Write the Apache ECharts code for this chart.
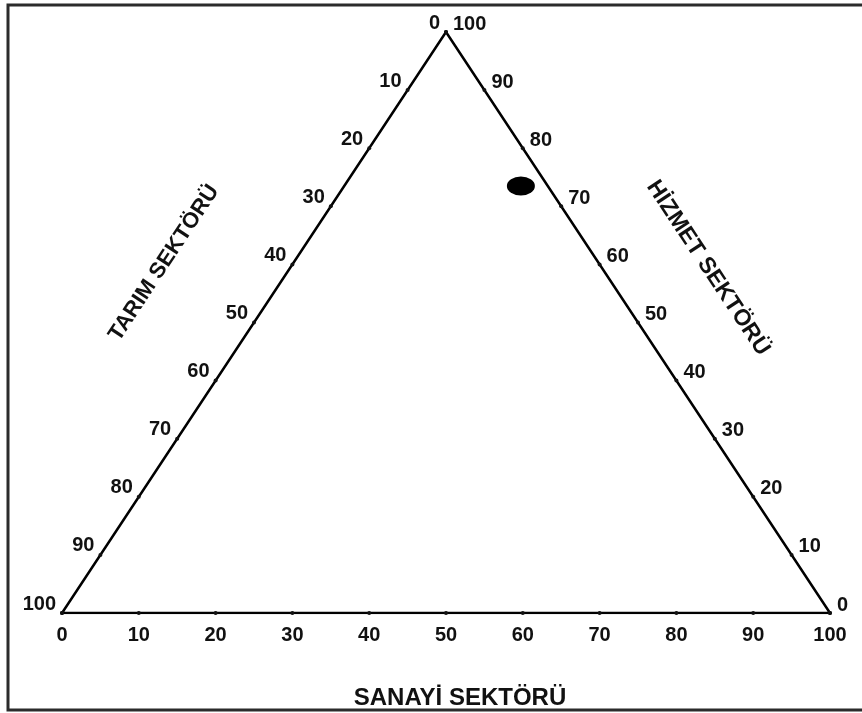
<!DOCTYPE html>
<html>
<head>
<meta charset="utf-8">
<script src="https://cdn.jsdelivr.net/npm/echarts@6/dist/echarts.min.js"></script>
<style>
  html, body { margin: 0; padding: 0; background: #fff; }
  #chart { width: 862px; height: 713px; }
</style>
</head>
<body>
<div id="chart"></div>
<script>
// tick values on each edge of the ternary diagram
const tarimTicks = [0, 10, 20, 30, 40, 50, 60, 70, 80, 90, 100]
const hizmetTicks = [0, 10, 20, 30, 40, 50, 60, 70, 80, 90, 100]
const sanayiTicks = [0, 10, 20, 30, 40, 50, 60, 70, 80, 90, 100]

// the plotted country/region: [tarım, sanayi, hizmet] shares (%)
const pointShares = [3.5, 23, 73.5]

const titles = ['TARIM SEKTÖRÜ', 'SANAYİ SEKTÖRÜ', 'HİZMET SEKTÖRÜ']

// ternary -> cartesian (x: 0..100 along base, y: 0..100 up to apex)
const toXY = (t, s, h) => [s + h / 2, h]

const font = '"Liberation Sans", Arial, sans-serif'
const tickLabel = {
  show: true,
  color: '#111',
  opacity: 1,
  fontSize: 20,
  fontWeight: 'bold',
  fontFamily: font,
}

const chart = echarts.init(document.getElementById('chart'))

const tickSeries = (name, data, label) => ({
  name,
  type: 'scatter',
  symbol: 'circle',
  symbolSize: 4,
  itemStyle: { color: '#111', opacity: 1 },
  silent: true,
  data,
  label: { ...tickLabel, ...label, formatter: (p) => p.value[2] },
  z: 3,
})

const rot = Math.atan2(581, 384)

chart.setOption({
  backgroundColor: '#fff',
  animation: false,
  grid: { left: 62, right: 32, top: 32, bottom: 100 },
  xAxis: { type: 'value', min: 0, max: 100, show: false },
  yAxis: { type: 'value', min: 0, max: 100, show: false },
  series: [
    {
      name: 'frame',
      type: 'line',
      data: [toXY(100, 0, 0), toXY(0, 100, 0), toXY(0, 0, 100), toXY(100, 0, 0)],
      symbol: 'none',
      lineStyle: { color: '#000', width: 2.5 },
      silent: true,
      z: 2,
    },
    tickSeries(
      'tarim',
      tarimTicks.map((v) => [...toXY(v, 0, 100 - v), v]),
      { position: 'left', distance: 4, offset: [0, -9] },
    ),
    tickSeries(
      'hizmet',
      hizmetTicks.map((v) => [...toXY(0, 100 - v, v), v]),
      { position: 'right', distance: 5, offset: [0, -8] },
    ),
    tickSeries(
      'sanayi',
      sanayiTicks.map((v) => [...toXY(100 - v, v, 0), v]),
      { position: 'bottom', distance: 10 },
    ),
    {
      name: 'point',
      type: 'scatter',
      symbol: 'circle',
      symbolSize: [28, 19],
      itemStyle: { color: '#000', opacity: 1 },
      data: [toXY(...pointShares)],
      z: 4,
    },
  ],
  graphic: [
    {
      type: 'rect',
      shape: { x: 8, y: 5, width: 860, height: 705 },
      style: { fill: 'none', stroke: '#2b2b2b', lineWidth: 3 },
      silent: true,
    },
    {
      type: 'text',
      x: 164,
      y: 263,
      rotation: rot,
      style: {
        text: titles[0],
        font: 'bold 22px ' + font,
        fill: '#111',
        align: 'center',
        verticalAlign: 'middle',
      },
    },
    {
      type: 'text',
      x: 460,
      y: 698,
      style: {
        text: titles[1],
        font: 'bold 24px ' + font,
        fill: '#111',
        align: 'center',
        verticalAlign: 'middle',
      },
    },
    {
      type: 'text',
      x: 708,
      y: 268,
      rotation: -rot,
      style: {
        text: titles[2],
        font: 'bold 23px ' + font,
        fill: '#111',
        align: 'center',
        verticalAlign: 'middle',
      },
    },
  ],
})

window.addEventListener('resize', () => chart.resize())
</script>
</body>
</html>
